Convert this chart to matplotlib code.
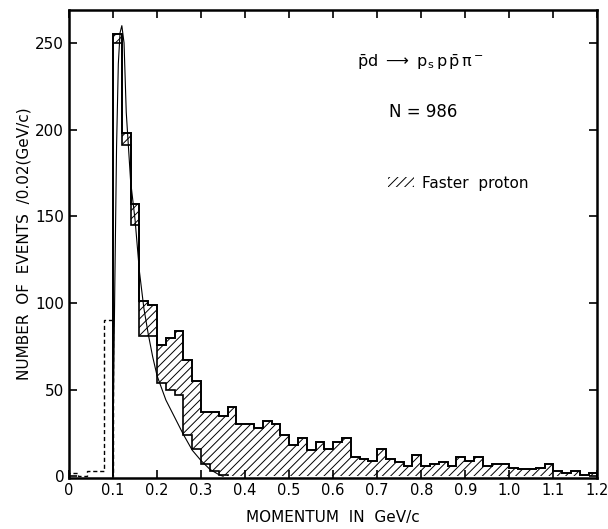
import numpy as np
import matplotlib
matplotlib.use("Agg")
import matplotlib.pyplot as plt
from matplotlib.patches import Patch

# momentum bins, 0.02 GeV/c wide
edges = np.round(np.arange(0.0, 1.2001, 0.02), 2)

# dashed part below the 0.1 GeV/c cut (bins 0.00-0.10)
dashed_counts = [2, 0, 3, 3, 90]

# upper histogram, bins from 0.10 to 1.20
upper_counts = [255, 198, 157, 101, 99, 76, 80, 84, 67, 55,
                37, 37, 35, 40, 30, 30, 28, 32, 30, 24,
                18, 22, 15, 20, 16, 20, 22, 11, 10, 9,
                16, 10, 8, 6, 12, 6, 7, 8, 6, 11,
                9, 11, 6, 7, 7, 5, 4, 4, 5, 7,
                3, 2, 3, 1, 2]

# lower histogram (unhatched part), bins from 0.10 to 0.36
lower_counts = [250, 191, 145, 81, 81, 54, 50, 47, 24, 16, 7, 3, 1]

# smooth curve
curve_p = [0.099, 0.104, 0.108, 0.112, 0.116, 0.120, 0.125, 0.130, 0.140,
           0.150, 0.160, 0.170, 0.180, 0.190, 0.200, 0.220, 0.240, 0.260,
           0.280, 0.300, 0.320, 0.340, 0.350]
curve_n = [0, 110, 190, 238, 256, 260, 250, 210, 170,
           148, 118, 97, 82, 69, 58, 44, 34, 24,
           15, 9, 4, 1, 0]

tick_vals = [0, 0.1, 0.2, 0.3, 0.4, 0.5, 0.6, 0.7, 0.8, 0.9, 1.0, 1.1, 1.2]
tick_text = ["0", "0.1", "0.2", "0.3", "0.4", "0.5", "0.6", "0.7", "0.8",
             "0.9", "1.0", "1.1", "1.2"]

plt.rcParams['font.family'] = ['DejaVu Sans']
plt.rcParams['hatch.linewidth'] = 0.7
plt.rcParams['hatch.color'] = 'black'
plt.rcParams['mathtext.fontset'] = 'dejavusans'

fig = plt.figure(figsize=(6.08, 5.29), dpi=100)
ax = fig.add_axes([0.1135, 0.0964, 0.869, 0.8846])

main_edges = edges[5:]
lower_full = np.zeros(len(upper_counts))
lower_full[:len(lower_counts)] = lower_counts

# hatched region (faster proton) between the two histograms
ax.stairs(upper_counts, main_edges, baseline=lower_full, fill=True,
          facecolor='none', edgecolor='black', hatch='////', linewidth=0)
ax.stairs(upper_counts, main_edges, color='black', linewidth=1.4)
ax.stairs(lower_counts, main_edges[:len(lower_counts) + 1], color='black',
          linewidth=1.2)
ax.stairs(dashed_counts, edges[:6], color='black', linewidth=1.0,
          linestyle=(0, (3, 2)))
ax.plot(curve_p, curve_n, color='black', linewidth=0.8)

ax.set_xlim(0, 1.2)
ax.set_ylim(-1, 269)
ax.set_xticks(tick_vals)
ax.set_xticklabels(tick_text, fontsize=10.5)
ax.set_yticks([0, 50, 100, 150, 200, 250])
ax.tick_params(axis='y', labelsize=11)
ax.tick_params(direction='in', length=6, width=1.2, top=True, right=True)
for s in ax.spines.values():
    s.set_linewidth(1.8)

ax.set_xlabel("MOMENTUM  IN  GeV/c", fontsize=11, labelpad=9)
ax.set_ylabel("NUMBER  OF  EVENTS  /0.02(GeV/c)", fontsize=11, labelpad=3)

ax.text(0.545, 0.889,
        r"$\mathrm{\bar{p}d}\ \longrightarrow\ \mathrm{p_s\,p\,\bar{p}\,\pi^-}$",
        transform=ax.transAxes, fontsize=11.5, va='center', ha='left')
ax.text(0.606, 0.782, "N = 986", transform=ax.transAxes, fontsize=12,
        va='center', ha='left')

handle = Patch(facecolor='none', edgecolor='black', hatch='////', linewidth=0)
ax.legend([handle], ["Faster  proton"], loc='center left',
          bbox_to_anchor=(0.578, 0.63), frameon=False, fontsize=11,
          handlelength=1.7, handleheight=0.6, handletextpad=0.5)

fig.savefig("out.png", dpi=100)
